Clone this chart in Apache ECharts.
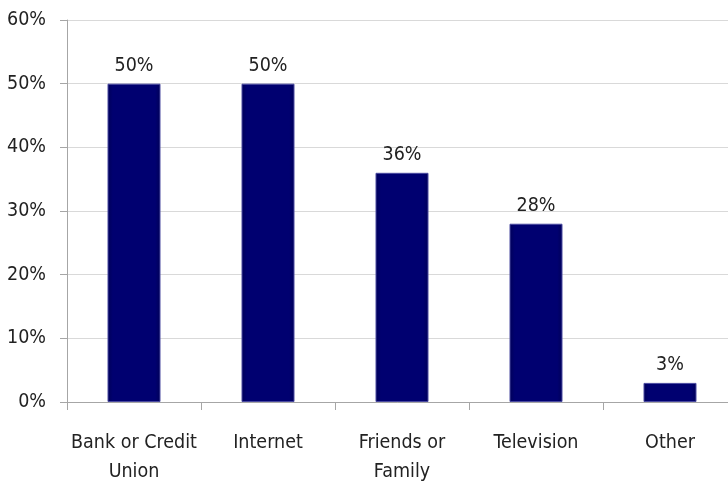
<!DOCTYPE html>
<html>
<head>
<meta charset="utf-8">
<script src="https://cdn.jsdelivr.net/npm/echarts@6/dist/echarts.min.js"></script>
<style>
html,body{margin:0;padding:0;background:#fff;}
#chart{width:728px;height:483px;}
</style>
</head>
<body>
<div id="chart"></div>
<script>
const categories = ['Bank or Credit\nUnion', 'Internet', 'Friends or\nFamily', 'Television', 'Other'];
const values = [50, 50, 36, 28, 3];
const yTicks = [0, 10, 20, 30, 40, 50, 60];

const FONT = '"DejaVu Sans Condensed", "Liberation Sans", sans-serif';
const TEXT = '#222222';
const chart = echarts.init(document.getElementById('chart'), null, {renderer: 'canvas'});
chart.setOption({
  animation: false,
  backgroundColor: '#fff',
  grid: {left: 67, right: -9, top: 20, bottom: 81, containLabel: false, outerBoundsMode: 'none'},
  xAxis: {
    type: 'category',
    data: categories,
    axisLine: {show: true, lineStyle: {color: '#a6a6a6', width: 1}},
    axisTick: {show: true, alignWithLabel: false, length: 8, lineStyle: {color: '#a6a6a6'}},
    axisLabel: {color: TEXT, fontFamily: FONT, fontSize: 19.5, lineHeight: 29, margin: 26, interval: 0}
  },
  yAxis: {
    type: 'value',
    min: yTicks[0], max: yTicks[yTicks.length - 1], interval: 10,
    axisLine: {show: true, lineStyle: {color: '#a6a6a6', width: 1}},
    axisTick: {show: true, length: 7, inside: false, lineStyle: {color: '#a6a6a6'}},
    splitLine: {show: true, lineStyle: {color: '#d9d9d9', width: 1}},
    axisLabel: {color: TEXT, fontFamily: FONT, fontSize: 19.5, margin: 21, padding: [4, 0, 0, 0], formatter: v => v + '%'}
  },
  series: [{
    type: 'bar',
    data: values,
    barWidth: 53,
    itemStyle: {
      color: {type: 'linear', x: 0, y: 0, x2: 1, y2: 0, colorStops: [
        {offset: 0, color: '#000058'}, {offset: 0.1, color: '#000070'}, {offset: 0.9, color: '#000070'}, {offset: 1, color: '#000058'}
      ]},
      borderColor: '#4a4aa0', borderWidth: 1
    },
    label: {show: true, position: 'top', distance: 8, color: TEXT, fontFamily: FONT, fontSize: 19.5, formatter: p => p.value + '%'}
  }]
});
</script>
</body>
</html>
